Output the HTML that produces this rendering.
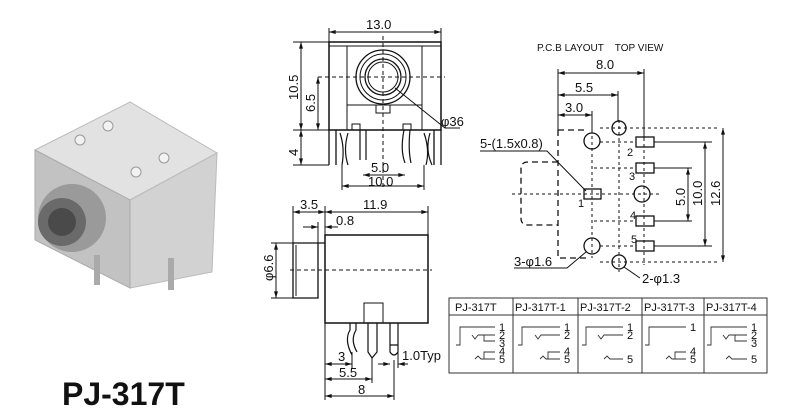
<!DOCTYPE html>
<html><head><meta charset="utf-8"><style>
html,body{margin:0;padding:0;background:#fff;}
svg{display:block;}
text{font-family:"Liberation Sans",Arial,sans-serif;fill:#111;}
</style></head><body>
<svg width="800" height="413" viewBox="0 0 800 413" xmlns="http://www.w3.org/2000/svg">
<defs>
<marker id="a" viewBox="0 0 10 6" refX="10" refY="3" markerWidth="8" markerHeight="4" orient="auto-start-reverse"><path d="M0,0L10,3L0,6z" fill="#111"/></marker>
</defs>
<!-- photo -->
<g>
<polygon points="35,150 130,102 217,153 130,200" fill="#e2e2e2" stroke="#bbb"/>
<polygon points="130,200 217,153 212,272 130,288" fill="#d2d2d2" stroke="#bbb"/>
<polygon points="35,150 130,200 130,288 35,240" fill="#c2c2c2" stroke="#aaa"/>
<circle cx="72" cy="218" r="34" fill="#9a9a9a"/>
<circle cx="62" cy="222" r="24" fill="#6a6a6a"/>
<circle cx="62" cy="222" r="14" fill="#4a4a4a"/>
<circle cx="108" cy="126" r="5" fill="#f2f2f2" stroke="#999"/>
<circle cx="80" cy="140" r="5" fill="#f2f2f2" stroke="#999"/>
<circle cx="164" cy="158" r="5" fill="#f2f2f2" stroke="#999"/>
<circle cx="136" cy="172" r="5" fill="#f2f2f2" stroke="#999"/>
<rect x="94" y="255" width="6" height="30" fill="#aaa"/>
<rect x="168" y="258" width="6" height="32" fill="#aaa"/>
</g>
<text x="62" y="405" font-size="32" font-weight="bold">PJ-317T</text>

<g stroke="#111" fill="none" stroke-width="1">
<!-- TOP VIEW -->
<line x1="329" y1="32" x2="441" y2="32" marker-start="url(#a)" marker-end="url(#a)"/>
<line x1="329" y1="28" x2="329" y2="42"/><line x1="441" y1="28" x2="441" y2="42"/>
<rect x="329" y="42" width="112" height="88" stroke-width="1.5"/>
<line x1="329" y1="46" x2="441" y2="46"/>
<line x1="347" y1="46" x2="347" y2="130"/><line x1="422" y1="46" x2="422" y2="130"/>
<line x1="347" y1="105" x2="422" y2="105"/>
<circle cx="383" cy="77" r="27" stroke-width="1.3"/>
<circle cx="383" cy="77" r="23"/>
<circle cx="383" cy="77" r="18" stroke-width="1.3"/>
<circle cx="383" cy="77" r="15"/>
<rect x="376" y="105" width="14" height="8"/>
<line x1="383" y1="36" x2="383" y2="190" stroke-dasharray="4,3"/>
<line x1="318" y1="77" x2="445" y2="77" stroke-dasharray="4,3"/>
<line x1="395" y1="88" x2="445" y2="128"/>
<line x1="445" y1="128" x2="460" y2="128"/>
<path d="M329,130 V165 M336,130 V165 M434,130 V165 M441,130 V165" stroke-width="1.3"/>
<path d="M340,133 Q345,148 342,165 M348,133 Q343,150 348,165" stroke-width="1.2"/>
<path d="M360,130 V160 M366,130 V160" stroke-width="1.2"/>
<path d="M404,130 Q400,150 405,163 M410,130 Q408,150 411,163" stroke-width="1.2"/>
<path d="M424,133 Q430,150 426,165 M430,133 Q425,150 432,165" stroke-width="1.2"/>
<path d="M352,130 V124 H360 V130 M403,130 V124 H411 V130"/>
<line x1="293" y1="42" x2="329" y2="42"/><line x1="293" y1="130" x2="329" y2="130"/><line x1="293" y1="165" x2="329" y2="165"/>
<line x1="301" y1="42" x2="301" y2="130" marker-start="url(#a)" marker-end="url(#a)"/>
<line x1="301" y1="130" x2="301" y2="165" marker-start="url(#a)" marker-end="url(#a)"/>
<line x1="318" y1="77" x2="318" y2="130" marker-start="url(#a)" marker-end="url(#a)"/>
<line x1="363" y1="175" x2="405" y2="175" marker-start="url(#a)" marker-end="url(#a)"/>
<line x1="342" y1="186" x2="424" y2="186" marker-start="url(#a)" marker-end="url(#a)"/>
<line x1="342" y1="165" x2="342" y2="190"/><line x1="424" y1="165" x2="424" y2="190"/>
</g>
<g font-size="13">
<text x="366" y="29">13.0</text>
<text x="298" y="100" transform="rotate(-90 298 100)">10.5</text>
<text x="315" y="112" transform="rotate(-90 315 112)">6.5</text>
<text x="298" y="156" transform="rotate(-90 298 156)">4</text>
<text x="441" y="126">φ36</text>
<text x="371" y="172">5.0</text>
<text x="368" y="186">10.0</text>
</g>

<!-- SIDE VIEW -->
<g stroke="#111" fill="none" stroke-width="1">
<line x1="293" y1="212" x2="325" y2="212" marker-start="url(#a)" marker-end="url(#a)"/>
<line x1="325" y1="212" x2="428" y2="212" marker-start="url(#a)" marker-end="url(#a)"/>
<line x1="293" y1="206" x2="293" y2="243"/><line x1="325" y1="206" x2="325" y2="400"/><line x1="428" y1="206" x2="428" y2="235"/>
<line x1="303" y1="227" x2="318" y2="227" marker-end="url(#a)"/><line x1="325" y1="227" x2="338" y2="227" marker-start="url(#a)"/>
<line x1="318" y1="222" x2="318" y2="243"/>
<rect x="325" y="235" width="103" height="88" stroke-width="1.5"/>
<path d="M318,243 H325 M293,243 H318 V298 H293 Z" stroke-width="1.3"/>
<path d="M296,245 V296" />
<line x1="290" y1="270" x2="432" y2="270" stroke-dasharray="4,3"/>
<line x1="271" y1="243" x2="293" y2="243"/><line x1="271" y1="298" x2="293" y2="298"/>
<line x1="276" y1="243" x2="276" y2="298" marker-start="url(#a)" marker-end="url(#a)"/>
<path d="M364,323 V303 H383 V323"/>
<path d="M350,323 V330 Q344,340 352,355 M356,323 V330 Q350,340 357,352" stroke-width="1.2"/>
<path d="M368,323 V352 L372,358 L377,352 V323" stroke-width="1.2"/>
<path d="M390,323 V352 Q394,358 398,352 V323 M390,345 H398" stroke-width="1.2"/>
<line x1="325" y1="364" x2="352" y2="364" marker-start="url(#a)" marker-end="url(#a)"/>
<line x1="352" y1="352" x2="352" y2="368"/>
<line x1="325" y1="379" x2="372" y2="379" marker-start="url(#a)" marker-end="url(#a)"/>
<line x1="372" y1="358" x2="372" y2="383"/>
<line x1="325" y1="396" x2="394" y2="396" marker-start="url(#a)" marker-end="url(#a)"/>
<line x1="394" y1="360" x2="394" y2="400"/>
<line x1="378" y1="364" x2="390" y2="364" marker-end="url(#a)"/><line x1="398" y1="364" x2="408" y2="364" marker-start="url(#a)"/>
<line x1="398" y1="352" x2="398" y2="368"/>
</g>
<g font-size="13">
<text x="300" y="209">3.5</text>
<text x="363" y="209">11.9</text>
<text x="336" y="225">0.8</text>
<text x="273" y="281" transform="rotate(-90 273 281)">φ6.6</text>
<text x="338" y="361">3</text>
<text x="339" y="377">5.5</text>
<text x="358" y="394">8</text>
<text x="402" y="360">1.0Typ</text>
</g>

<!-- PCB LAYOUT -->
<text x="537" y="51" font-size="10">P.C.B LAYOUT&#160;&#160;&#160; TOP VIEW</text>
<g stroke="#111" fill="none" stroke-width="1">
<line x1="558" y1="73" x2="644" y2="73" marker-start="url(#a)" marker-end="url(#a)"/>
<line x1="558" y1="95" x2="618" y2="95" marker-start="url(#a)" marker-end="url(#a)"/>
<line x1="558" y1="115" x2="592" y2="115" marker-start="url(#a)" marker-end="url(#a)"/>
<line x1="558" y1="69" x2="558" y2="130"/><line x1="644" y1="69" x2="644" y2="140"/>
<line x1="618" y1="91" x2="618" y2="121"/><line x1="592" y1="111" x2="592" y2="133"/>
<g stroke-dasharray="6,4" stroke-width="1.3">
<path d="M558,130 H588 M558,130 V258 H588"/>
<path d="M558,162 H528 Q521,162 521,169 V218 Q521,225 528,225 H558"/>
</g>
<g stroke-dasharray="3,3">
<line x1="592" y1="130" x2="592" y2="258"/>
<line x1="619" y1="120" x2="619" y2="272"/>
<line x1="644" y1="120" x2="644" y2="265"/>
<line x1="600" y1="128" x2="720" y2="128"/>
<line x1="600" y1="142" x2="636" y2="142"/>
<line x1="594" y1="168" x2="636" y2="168"/>
<line x1="512" y1="194" x2="660" y2="194"/>
<line x1="594" y1="221" x2="636" y2="221"/>
<line x1="600" y1="246" x2="636" y2="246"/>
<line x1="600" y1="262" x2="720" y2="262"/>
</g>
<circle cx="592" cy="141" r="8" stroke-width="1.3"/>
<circle cx="619" cy="128" r="7" stroke-width="1.3"/>
<circle cx="642" cy="194" r="8" stroke-width="1.3"/>
<circle cx="592" cy="246" r="8" stroke-width="1.3"/>
<circle cx="619" cy="262" r="7" stroke-width="1.3"/>
<rect x="636" y="137" width="18" height="10" stroke-width="1.3"/>
<rect x="636" y="163" width="18" height="10" stroke-width="1.3"/>
<rect x="636" y="216" width="18" height="10" stroke-width="1.3"/>
<rect x="636" y="241" width="18" height="10" stroke-width="1.3"/>
<rect x="584" y="189" width="17" height="10" stroke-width="1.3"/>
<line x1="654" y1="142" x2="712" y2="142"/><line x1="654" y1="246" x2="712" y2="246"/>
<line x1="654" y1="168" x2="692" y2="168"/><line x1="654" y1="221" x2="692" y2="221"/>
<line x1="688" y1="168" x2="688" y2="221" marker-start="url(#a)" marker-end="url(#a)"/>
<line x1="705" y1="142" x2="705" y2="246" marker-start="url(#a)" marker-end="url(#a)"/>
<line x1="723" y1="128" x2="723" y2="262" marker-start="url(#a)" marker-end="url(#a)"/>
<path d="M480,151 H547 L586,191"/>
<path d="M514,268 H567 L586,252"/>
<path d="M624,267 L640,278"/>
</g>
<g font-size="13">
<text x="596" y="69">8.0</text>
<text x="575" y="92">5.5</text>
<text x="565" y="112">3.0</text>
<text x="480" y="148">5-(1.5x0.8)</text>
<text x="514" y="266">3-φ1.6</text>
<text x="642" y="283">2-φ1.3</text>
<text x="685" y="206" transform="rotate(-90 685 206)">5.0</text>
<text x="702" y="206" transform="rotate(-90 702 206)">10.0</text>
<text x="720" y="206" transform="rotate(-90 720 206)">12.6</text>
</g>
<g font-size="11">
<text x="627" y="156">2</text><text x="629" y="180">3</text><text x="630" y="219">4</text><text x="631" y="243">5</text><text x="578" y="207">1</text>
</g>

<!-- TABLE -->
<g stroke="#333" fill="none" stroke-width="1">
<rect x="449" y="298" width="318" height="75"/>
<line x1="449" y1="315" x2="767" y2="315"/>
<line x1="513" y1="298" x2="513" y2="373"/><line x1="578" y1="298" x2="578" y2="373"/>
<line x1="642" y1="298" x2="642" y2="373"/><line x1="704" y1="298" x2="704" y2="373"/>
</g>
<g font-size="11">
<text x="455" y="311">PJ-317T</text><text x="515" y="311">PJ-317T-1</text><text x="580" y="311">PJ-317T-2</text><text x="644" y="311">PJ-317T-3</text><text x="706" y="311">PJ-317T-4</text>
</g>
<g stroke="#333" fill="none" stroke-width="0.9">
<path d="M456,345 H460 V327 H495 M472,335 L475,339 L478,335 M478,335 H495 M484,335 V341 H495 M475,359 L478,356 L481,359 H495 M484,359 V352 H495"/>
<path d="M518,345 H522 V327 H560 M535,335 L538,339 L541,335 H560 M540,359 L543,356 L546,359 H560 M548,359 V352 H560"/>
<path d="M582,345 H586 V327 H623 M598,335 L601,339 L604,335 H623 M604,359 L607,356 L610,359 H623"/>
<path d="M645,345 H649 V327 H686 M666,359 L669,356 L672,359 H686 M675,359 V352 H686"/>
<path d="M707,345 H711 V327 H747 M723,335 L726,339 L729,335 H747 M735,335 V341 H747 M726,359 L729,356 L732,359 H747"/>
</g>
<g font-size="11">
<text x="751" y="331">1</text><text x="751" y="339">2</text><text x="751" y="347">3</text>
<text x="499" y="331">1</text><text x="499" y="339">2</text><text x="499" y="347">3</text><text x="499" y="355">4</text><text x="499" y="363">5</text>
<text x="564" y="331">1</text><text x="564" y="339">2</text><text x="564" y="355">4</text><text x="564" y="363">5</text>
<text x="627" y="331">1</text><text x="627" y="339">2</text><text x="627" y="363">5</text>
<text x="690" y="331">1</text><text x="690" y="355">4</text><text x="690" y="363">5</text>
<text x="751" y="363">5</text>
</g>
</svg>
</body></html>
